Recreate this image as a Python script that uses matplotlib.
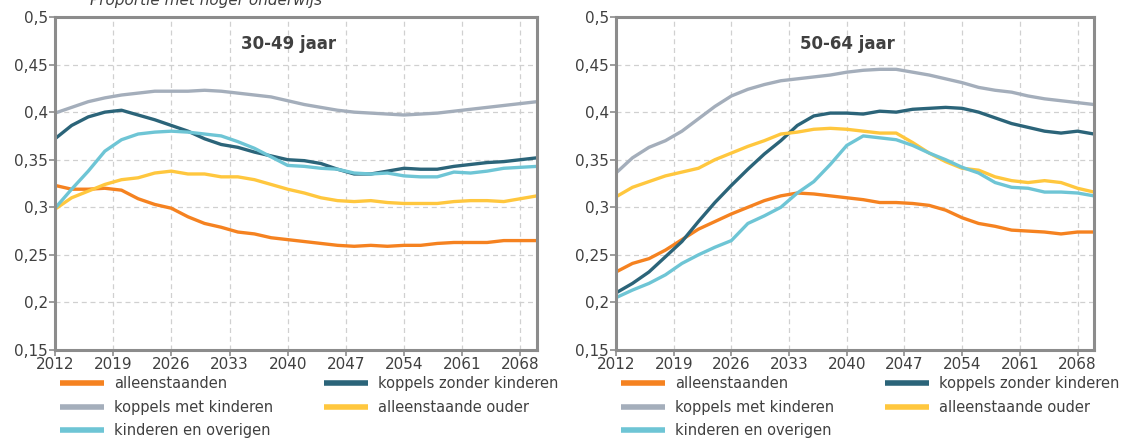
import matplotlib
matplotlib.use("Agg")
import matplotlib.pyplot as plt

plt.rcParams['font.family'] = ['DejaVu Sans']

years = list(range(2012, 2071, 2))

# 30-49 jaar
alleen_3049 = [0.323, 0.319, 0.319, 0.320, 0.318, 0.309, 0.303, 0.299, 0.290, 0.283,
               0.279, 0.274, 0.272, 0.268, 0.266, 0.264, 0.262, 0.260, 0.259, 0.260,
               0.259, 0.260, 0.260, 0.262, 0.263, 0.263, 0.263, 0.265, 0.265, 0.265]
kzk_3049 = [0.372, 0.386, 0.395, 0.400, 0.402, 0.397, 0.392, 0.386, 0.380, 0.372,
            0.366, 0.363, 0.358, 0.354, 0.350, 0.349, 0.346, 0.340, 0.335, 0.335,
            0.338, 0.341, 0.340, 0.340, 0.343, 0.345, 0.347, 0.348, 0.350, 0.352]
kmk_3049 = [0.399, 0.405, 0.411, 0.415, 0.418, 0.420, 0.422, 0.422, 0.422, 0.423,
            0.422, 0.420, 0.418, 0.416, 0.412, 0.408, 0.405, 0.402, 0.400, 0.399,
            0.398, 0.397, 0.398, 0.399, 0.401, 0.403, 0.405, 0.407, 0.409, 0.411]
ouder_3049 = [0.298, 0.310, 0.317, 0.324, 0.329, 0.331, 0.336, 0.338, 0.335, 0.335,
              0.332, 0.332, 0.329, 0.324, 0.319, 0.315, 0.310, 0.307, 0.306, 0.307,
              0.305, 0.304, 0.304, 0.304, 0.306, 0.307, 0.307, 0.306, 0.309, 0.312]
kin_3049 = [0.299, 0.319, 0.338, 0.359, 0.371, 0.377, 0.379, 0.380, 0.379, 0.377,
            0.375, 0.369, 0.362, 0.353, 0.344, 0.343, 0.341, 0.340, 0.336, 0.335,
            0.336, 0.333, 0.332, 0.332, 0.337, 0.336, 0.338, 0.341, 0.342, 0.343]

# 50-64 jaar
alleen_5064 = [0.232, 0.241, 0.246, 0.255, 0.266, 0.277, 0.285, 0.293, 0.300, 0.307,
               0.312, 0.315, 0.314, 0.312, 0.310, 0.308, 0.305, 0.305, 0.304, 0.302,
               0.297, 0.289, 0.283, 0.280, 0.276, 0.275, 0.274, 0.272, 0.274, 0.274]
kzk_5064 = [0.210, 0.220, 0.232, 0.248, 0.264, 0.285, 0.305, 0.323, 0.340, 0.356,
            0.370, 0.386, 0.396, 0.399, 0.399, 0.398, 0.401, 0.400, 0.403, 0.404,
            0.405, 0.404, 0.400, 0.394, 0.388, 0.384, 0.380, 0.378, 0.380, 0.377]
kmk_5064 = [0.336, 0.352, 0.363, 0.370, 0.380, 0.393, 0.406, 0.417, 0.424, 0.429,
            0.433, 0.435, 0.437, 0.439, 0.442, 0.444, 0.445, 0.445, 0.442, 0.439,
            0.435, 0.431, 0.426, 0.423, 0.421, 0.417, 0.414, 0.412, 0.410, 0.408]
ouder_5064 = [0.311, 0.321, 0.327, 0.333, 0.337, 0.341, 0.350, 0.357, 0.364, 0.370,
              0.377, 0.379, 0.382, 0.383, 0.382, 0.380, 0.378, 0.378, 0.368, 0.357,
              0.348, 0.341, 0.339, 0.332, 0.328, 0.326, 0.328, 0.326, 0.320, 0.316]
kin_5064 = [0.205, 0.213, 0.220, 0.229, 0.241, 0.250, 0.258, 0.265, 0.283, 0.291,
            0.300, 0.315, 0.327, 0.345, 0.365, 0.375, 0.373, 0.371, 0.365, 0.357,
            0.350, 0.342, 0.336, 0.326, 0.321, 0.320, 0.316, 0.316, 0.315, 0.312]

labels = ["alleenstaanden", "koppels zonder kinderen", "koppels met kinderen",
          "alleenstaande ouder", "kinderen en overigen"]
colors = ["#F58220", "#2B6479", "#A4AEBB", "#FFC73E", "#6EC5D5"]

x_ticks = [2012, 2019, 2026, 2033, 2040, 2047, 2054, 2061, 2068]
y_ticks = [0.15, 0.2, 0.25, 0.3, 0.35, 0.4, 0.45, 0.5]
y_labels = ["0,15", "0,2", "0,25", "0,3", "0,35", "0,4", "0,45", "0,5"]

panels = [
    ("30-49 jaar", [alleen_3049, kzk_3049, kmk_3049, ouder_3049, kin_3049],
     [55 / 1123, 1 - 350 / 443, 482 / 1123, 333 / 443]),
    ("50-64 jaar", [alleen_5064, kzk_5064, kmk_5064, ouder_5064, kin_5064],
     [616 / 1123, 1 - 350 / 443, 478 / 1123, 333 / 443]),
]

fig = plt.figure(figsize=(11.23, 4.43), dpi=100)
spine_col = "#8C8C8C"
text_col = "#404040"

for title, series, rect in panels:
    ax = fig.add_axes(rect)
    handles = []
    for vals, lab, col in zip(series, labels, colors):
        h, = ax.plot(years, vals, color=col, lw=2.4, label=lab, solid_capstyle='butt')
        handles.append(h)
    ax.set_xlim(2012, 2070)
    ax.set_ylim(0.15, 0.5)
    ax.set_xticks(x_ticks)
    ax.set_yticks(y_ticks)
    ax.set_yticklabels(y_labels)
    ax.grid(True, color="#D0D0D0", ls=(0, (4, 3)), lw=0.9)
    ax.set_axisbelow(True)
    for s in ax.spines.values():
        s.set_color(spine_col)
        s.set_linewidth(2.2)
    ax.tick_params(axis='both', colors=spine_col, labelcolor=text_col, labelsize=11,
                   length=4, width=1.2, pad=1)
    ax.text(0.485, 0.92, title, transform=ax.transAxes, ha='center', va='center',
            fontsize=12, fontweight='bold', color=text_col)
    order = [0, 2, 4, 1, 3]
    leg = ax.legend([handles[i] for i in order], [labels[i] for i in order],
                    ncol=2, loc='upper left', bbox_to_anchor=(0.01, -0.078),
                    frameon=False, fontsize=10.5, handlelength=3.0, handletextpad=0.7,
                    columnspacing=3.5, labelspacing=0.6, borderaxespad=0, borderpad=0)
    for line in leg.get_lines():
        line.set_linewidth(4)
    for t in leg.get_texts():
        t.set_color(text_col)

fig.text(90 / 1123, 1.0, "Proportie met hoger onderwijs", ha='left', va='center',
         fontsize=11, fontstyle='italic', color=text_col)

fig.savefig("out.png", dpi=100)
